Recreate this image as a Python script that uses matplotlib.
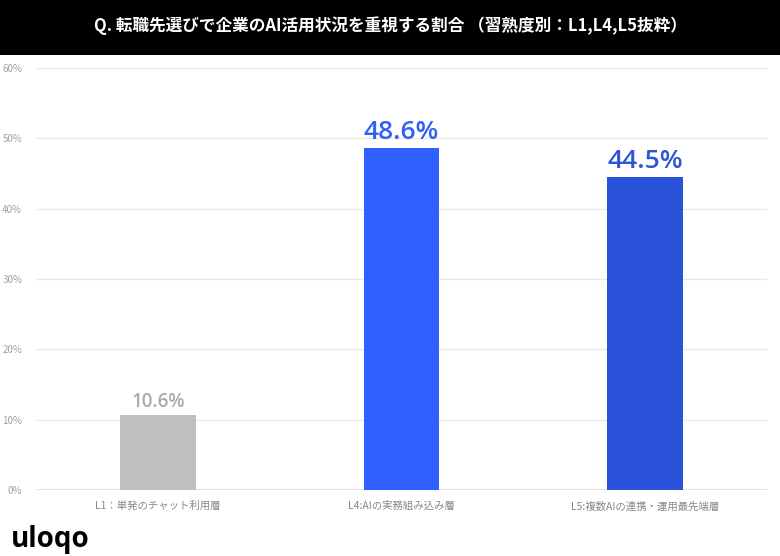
import matplotlib.pyplot as plt
import matplotlib.patches as patches

plt.rcParams['font.family'] = ['Noto Sans CJK JP', 'DejaVu Sans']

# Dados
categorias = ['L1：単発のチャット利用層', 'L4:AIの実務組み込み層', 'L5:複数AIの連携・運用最先端層']
valores = [10.6, 48.6, 44.5]
cores = ['#BFBFBF', '#2F5FFF', '#2A52D9']
cores_rotulo = ['#ABABAB', '#3260F5', '#2E55D6']
titulo = 'Q. 転職先選びで企業のAI活用状況を重視する割合 （習熟度別：L1,L4,L5抜粋）'
yticks = [0, 10, 20, 30, 40, 50, 60]

fig = plt.figure(figsize=(7.8, 5.56), dpi=100)

# Faixa preta do título
fig.patches.append(patches.Rectangle((0, 1 - 55 / 556), 1, 55 / 556, transform=fig.transFigure,
                                     facecolor='black', edgecolor='none', zorder=0))
fig.text(0.5, 1 - 26 / 556, titulo, color='white', fontsize=12, fontweight='bold',
         ha='center', va='center')

ax = fig.add_axes([36 / 780, 1 - 490 / 556, 731 / 780, 422 / 556])
x = range(len(categorias))
ax.bar(x, valores, width=0.31, color=cores, zorder=3)

for i, v in enumerate(valores):
    tamanho = 13.5 if i == 0 else 19
    ax.text(i, v + 0.5, f'{v:.1f}%', ha='center', va='bottom', fontsize=tamanho,
            fontweight='semibold', color=cores_rotulo[i], zorder=4,
            family=['Open Sans', 'DejaVu Sans'])

ax.set_xlim(-0.5, 2.5)
ax.set_ylim(0, 60)
ax.set_yticks(yticks)
ax.set_yticklabels([f'{t}%' for t in yticks], fontsize=7, color='#A0A0A0')
ax.set_xticks(list(x))
ax.set_xticklabels(categorias, fontsize=7.5, color='#888888')
ax.tick_params(axis='both', length=0, pad=8)
ax.tick_params(axis='y', pad=10)
ax.grid(axis='y', color='#E8E8E8', linewidth=1, zorder=0)
ax.axhline(0, color='#DDDDDD', linewidth=1.2, zorder=2)
for s in ax.spines.values():
    s.set_visible(False)

# Logo
fig.text(11 / 780, 1 - 540 / 556, 'uloqo', fontsize=20, fontweight='bold', color='black',
         ha='left', va='center', family=['Open Sans', 'DejaVu Sans'])

fig.savefig('out.png', dpi=100)
